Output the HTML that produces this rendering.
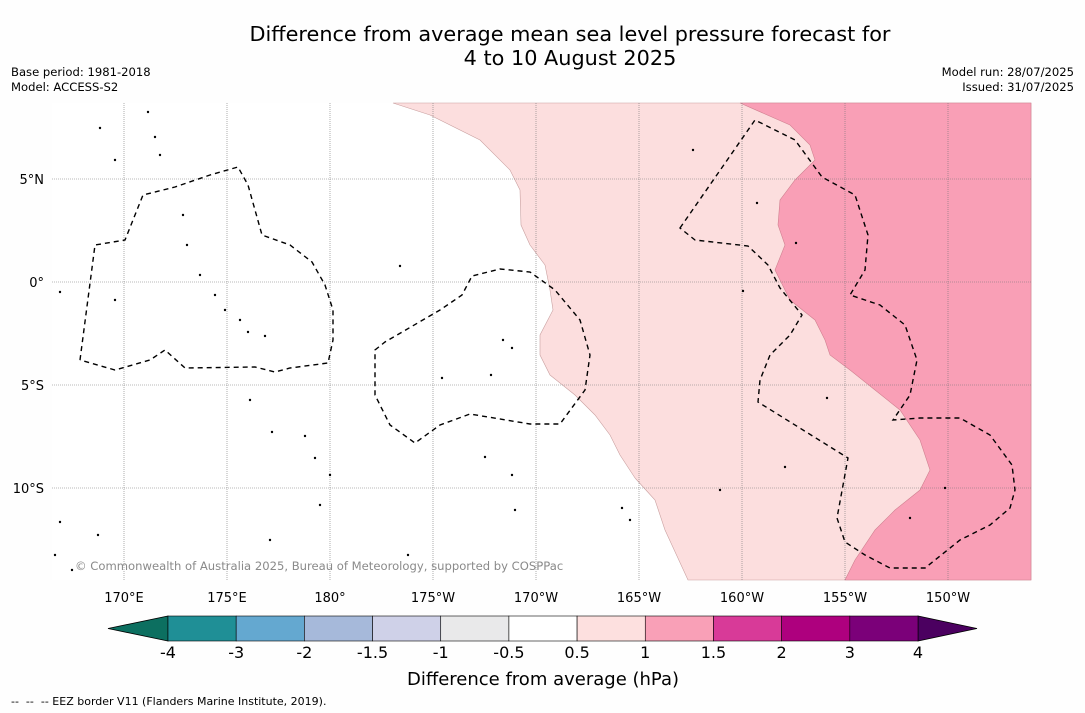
<!DOCTYPE html>
<html><head><meta charset="utf-8">
<style>
body{margin:0;background:#fff;font-family:"DejaVu Sans","Liberation Sans",sans-serif;}
#wrap{position:relative;width:1085px;height:713px;background:#fefefe;overflow:hidden}
.t{position:absolute;color:#000}
svg text{font-family:"DejaVu Sans","Liberation Sans",sans-serif;}
</style></head><body>
<div id="wrap">
<div class="t" style="left:0;width:1140px;top:22px;text-align:center;font-size:20.8px;line-height:24px">Difference from average mean sea level pressure forecast for<br>4 to 10 August 2025</div>
<div class="t" style="left:11px;top:65px;font-size:11.6px;line-height:15px">Base period: 1981-2018<br>Model: ACCESS-S2</div>
<div class="t" style="right:11px;top:65px;font-size:11.6px;line-height:15px;text-align:right">Model run: 28/07/2025<br>Issued: 31/07/2025</div>
<div class="t" style="left:11px;top:695px;font-size:11px">-- &nbsp;-- &nbsp;-- EEZ border V11 (Flanders Marine Institute, 2019).</div>
<svg id="svg" width="1085" height="713" style="position:absolute;left:0;top:0"></svg>
</div>
<script>
const lonTicks=[170,175,180,-175,-170,-165,-160,-155,-150];
const lonLabels=["170°E","175°E","180°","175°W","170°W","165°W","160°W","155°W","150°W"];
const latTicks=[5,0,-5,-10];
const latLabels=["5°N","0°","5°S","10°S"];
const cbLevels=["-4","-3","-2","-1.5","-1","-0.5","0.5","1","1.5","2","3","4"];
const cbColors=["#1f8f96","#64a8d0","#a6b9da","#cfd1e8","#e9e9ea","#ffffff","#fde0df","#f9a0b7","#d83a98","#ae007e","#7b0079"];
const cbLow="#0c6f60", cbHigh="#4b0060";
const M={x0:52,x1:1031,y0:103,y1:580};
function lx(lon){const l=lon<0?lon+360:lon;return 124+(l-170)*20.6;}
function ly(lat){return 282-lat*20.6;}
const NS="http://www.w3.org/2000/svg";
const svg=document.getElementById('svg');
function el(t,a,p){const e=document.createElementNS(NS,t);for(const k in a)e.setAttribute(k,a[k]);(p||svg).appendChild(e);return e;}
const bg=el('rect',{x:M.x0,y:M.y0,width:M.x1-M.x0,height:M.y1-M.y0,fill:'#fff'});


const p1=el('path',{fill:'#fcdede',stroke:'#c9a0a0','stroke-width':0.6,d:'M393,103 L430,115 L480,140 L510,170 L520,190 L521,225 L530,245 L545,265 L550,290 L553,310 L540,335 L540,355 L550,375 L575,395 L595,415 L610,435 L620,455 L635,478 L655,500 L665,530 L688,580 L1031,580 L1031,103 Z'});


const p2=el('path',{fill:'#f99fb6',stroke:'#d08090','stroke-width':0.6,d:'M740,103 L790,125 L810,145 L815,160 L795,180 L780,200 L778,225 L785,245 L775,270 L790,300 L815,320 L825,340 L830,355 L850,370 L875,390 L900,410 L920,440 L930,470 L920,490 L895,510 L875,530 L855,560 L845,580 L1031,580 L1031,103 Z'});


lonTicks.forEach((v,i)=>{const x=lx(v);
 const g=el('line',{x1:x,x2:x,y1:M.y0,y2:M.y1,stroke:'#777','stroke-width':0.6,'stroke-dasharray':'1,1'});
 
 const t=el('text',{x:x,y:602,'text-anchor':'middle','font-size':13});t.textContent=lonLabels[i];
 });
latTicks.forEach((v,i)=>{const y=ly(v);
 const g=el('line',{x1:M.x0,x2:M.x1,y1:y,y2:y,stroke:'#777','stroke-width':0.6,'stroke-dasharray':'1,1'});
 
 const t=el('text',{x:44,y:y+5,'text-anchor':'end','font-size':13});t.textContent=latLabels[i];
 });
const eez=['M80,360 L95,245 L125,240 L143,195 L175,187 L210,175 L238,167 L248,185 L262,235 L290,245 L312,262 L325,285 L333,310 L333,340 L328,363 L290,368 L275,372 L255,367 L185,368 L165,350 L150,360 L115,370 L80,360',
'M375,350 L385,342 L440,310 L462,295 L472,276 L500,269 L530,272 L555,290 L580,320 L590,355 L585,390 L560,424 L530,424 L470,414 L440,425 L415,443 L390,425 L375,395 Z',
'M680,228 L755,120 L795,140 L822,177 L855,195 L868,235 L865,270 L850,295 L880,305 L905,325 L917,360 L910,395 L893,420 L920,418 L960,418 L990,435 L1012,465 L1015,490 L1010,508 L990,525 L960,540 L935,560 L925,568 L890,568 L865,555 L845,542 L837,518 L848,458 L758,402 L760,380 L770,355 L790,335 L802,315 L780,288 L768,265 L748,246 L695,240 Z'];
eez.forEach(d=>{const e=el('path',{d:d,fill:'none',stroke:'#000','stroke-width':1.4,'stroke-dasharray':'5,4'});
 });
const islands=[[100,128],[148,112],[155,137],[160,155],[115,160],[183,215],[187,245],[200,275],[215,295],[225,310],[240,320],[248,332],[265,336],[250,400],[272,432],[305,436],[315,458],[330,475],[320,505],[60,292],[115,300],[400,266],[442,378],[491,375],[503,340],[512,348],[485,457],[512,475],[515,510],[622,508],[630,520],[720,490],[785,467],[827,398],[945,488],[910,518],[757,203],[796,243],[693,150],[743,291],[60,522],[98,535],[270,540],[408,555],[55,555],[72,570]];
islands.forEach(p=>{const c=el('circle',{cx:p[0],cy:p[1],r:1.2,fill:'#000'});
 });
const cp=el('text',{x:75,y:570,'font-size':11.6,fill:'#8a8a8a'});cp.textContent='© Commonwealth of Australia 2025, Bureau of Meteorology, supported by COSPPac';

const cbx0=168,cbx1=918,cby=616,cbh=25,bw=(cbx1-cbx0)/cbColors.length;
const lt=el('polygon',{points:`${cbx0},${cby} ${cbx0},${cby+cbh} 108,${cby+cbh/2}`,fill:cbLow,stroke:'#000','stroke-width':0.8});

const rt=el('polygon',{points:`${cbx1},${cby} ${cbx1},${cby+cbh} 977,${cby+cbh/2}`,fill:cbHigh,stroke:'#000','stroke-width':0.8});

cbColors.forEach((c,i)=>{const r=el('rect',{x:cbx0+i*bw,y:cby,width:bw,height:cbh,fill:c,stroke:'#000','stroke-width':0.6});
 });
cbLevels.forEach((v,i)=>{const t=el('text',{x:cbx0+i*bw,y:658,'text-anchor':'middle','font-size':16});t.textContent=v;
 });
const ct=el('text',{x:543,y:685,'text-anchor':'middle','font-size':18});ct.textContent='Difference from average (hPa)';

</script>
</body></html>
